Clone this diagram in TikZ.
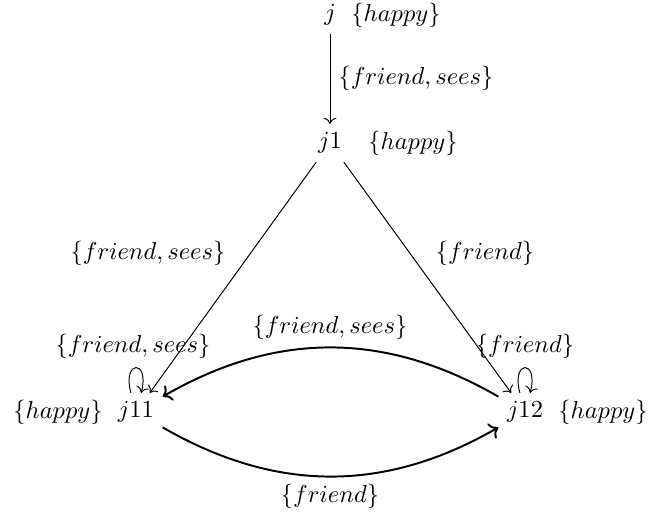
\documentclass[tikz,border=0pt]{standalone}
\usetikzlibrary{arrows.meta}
\begin{document}
\begin{tikzpicture}[x=0.408pt,y=0.408pt,
  every node/.style={inner sep=3.33pt},
  world/.style={},
  lbl/.style={},
  toplbl/.style={inner sep=0.5pt},
  rel/.style={->},
  relthick/.style={->,thick}]
\useasboundingbox (0,0) rectangle (648,-514);
% worlds
\node[world] (j)   at (330,-15)  {$j$};
\node[world] (j1)  at (330,-143) {$j1$};
\node[world] (j11) at (136,-412) {$j11$};
\node[world] (j12) at (525,-412) {$j12$};
% valuations
\node[lbl,toplbl] (hj) at (396,-15) {$\{happy\}$};
\node[lbl] (hj1)  at (413,-143) {$\{happy\}$};
\node[lbl] (hj11) at (58,-412)  {$\{happy\}$};
\node[lbl] (hj12) at (603,-412) {$\{happy\}$};
% edges
\draw[rel] (j) -- (j1);
\draw[rel] (j1) -- (j11);
\draw[rel] (j1) -- (j12);
\draw[relthick] (j12) to[bend right=30] (j11);
\draw[relthick] (j11) to[bend right=30] (j12);
\draw[rel] (j11) to[loop above] ();
\draw[rel] (j12) to[loop above] ();
% edge labels
\node[lbl] (ljj1)   at (416,-78)  {$\{friend, sees\}$};
\node[lbl] (lj1j11) at (148,-253) {$\{friend, sees\}$};
\node[lbl] (lj1j12) at (485,-253) {$\{friend\}$};
\node[lbl] (ltop)   at (330,-327) {$\{friend, sees\}$};
\node[lbl] (lbot)   at (330,-496) {$\{friend\}$};
\node[lbl] (ll11)   at (133,-346) {$\{friend, sees\}$};
\node[lbl] (ll12)   at (525,-346) {$\{friend\}$};
\end{tikzpicture}
\end{document}
